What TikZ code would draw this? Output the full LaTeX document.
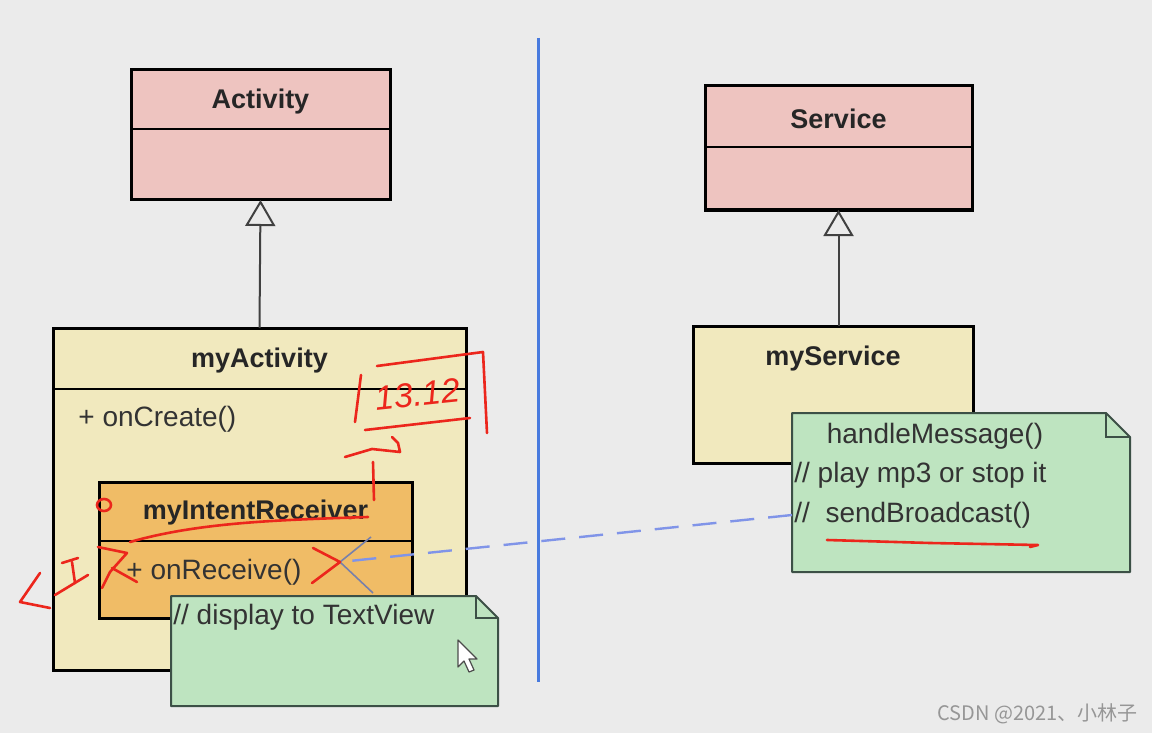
\documentclass[tikz,border=0pt]{standalone}
\usepackage{fontspec}
\setmainfont{Liberation Sans}
\newfontfamily\cjk{Noto Sans CJK SC}
\usetikzlibrary{arrows.meta}

\definecolor{bgGray}{RGB}{235,235,235}
\definecolor{pinkFill}{RGB}{238,196,192}
\definecolor{creamFill}{RGB}{241,233,190}
\definecolor{orangeFill}{RGB}{240,188,102}
\definecolor{noteGreen}{RGB}{190,228,192}
\definecolor{noteLine}{RGB}{60,80,70}
\definecolor{sepBlue}{RGB}{72,122,222}
\definecolor{depBlue}{RGB}{128,148,232}
\definecolor{tipGray}{RGB}{120,128,170}
\definecolor{penRed}{RGB}{236,38,28}
\definecolor{markGray}{RGB}{150,150,150}

\begin{document}
\begin{tikzpicture}[x=0.5pt, y=-0.5pt, >=latex]
  \tikzstyle{classBox} = [draw, line width=1.5pt, inner sep=0pt, outer sep=0pt];
  \tikzstyle{noteBox} = [inner sep=0pt, outer sep=0pt];
  \tikzstyle{noteEdge} = [draw=noteLine, fill=noteGreen, line width=1pt, line join=round];
  \tikzstyle{classTitle} = [font={\fontsize{13.5}{16}\selectfont\bfseries}, text=black!85];
  \tikzstyle{memberText} = [anchor=west, inner sep=0pt, font={\fontsize{14}{17}\selectfont}, text=black!80];
  \tikzstyle{inherit} = [black!75, line width=1pt, -{Triangle[open, length=13pt, width=15pt]}];
  \tikzstyle{dependEdge} = [depBlue, line width=1.2pt, dash pattern=on 12pt off 7pt];
  \tikzstyle{dependTip} = [tipGray, line width=0.8pt];
  \tikzstyle{pen} = [penRed, line width=1.3pt, line cap=round, line join=round];

  \useasboundingbox[fill=bgGray] (0,0) rectangle (1152,733);

  % separator
  \draw[sepBlue, line width=1.5pt] (538,38) -- (538,682);

  % base classes
  \node[classBox, fill=pinkFill, minimum width=129.5pt, minimum height=65pt] (Act) at (260.5,135) {};
  \draw[line width=1pt] (Act.west |- 0,129) -- (Act.east |- 0,129);
  \node[classTitle] (ActT) at (260.5,102) {Activity};

  \node[classBox, fill=pinkFill, minimum width=133.5pt, minimum height=62pt] (Srv) at (838.5,148) {};
  \draw[line width=1pt] (Srv.west |- 0,147) -- (Srv.east |- 0,147);
  \node[classTitle] (SrvT) at (838.5,119) {Service};

  % subclasses
  \node[classBox, fill=creamFill, minimum width=206.5pt, minimum height=171pt] (MyAct) at (259.5,499) {};
  \draw[line width=1pt] (MyAct.west |- 0,389) -- (MyAct.east |- 0,389);
  \node[classTitle] (MyActT) at (259.5,361) {myActivity};
  \node[memberText] (OnCreate) at (78,419) {+ onCreate()};

  \node[classBox, fill=orangeFill, minimum width=156.5pt, minimum height=68pt] (Recv) at (255.5,550) {};
  \draw[line width=1pt] (Recv.west |- 0,541) -- (Recv.east |- 0,541);
  \node[classTitle] (RecvT) at (255.5,513) {myIntentReceiver};
  \node[memberText] (OnRecv) at (126,572) {+ onReceive()};

  \node[classBox, fill=creamFill, minimum width=140pt, minimum height=68.5pt] (MySrv) at (833,394.5) {};
  \node[classTitle] (MySrvT) at (833,359) {myService};

  \draw[inherit] (MyAct.north) -- (Act.south);
  \draw[inherit] (MySrv.north -| Srv.south) -- (Srv.south);

  % notes
  \node[noteBox, minimum width=163.5pt, minimum height=55pt] (NoteA) at (334.5,651) {};
  \path[noteEdge] (NoteA.north west) -- ([xshift=-11pt]NoteA.north east) -- ([yshift=-11pt]NoteA.north east)
    -- (NoteA.south east) -- (NoteA.south west) -- cycle;
  \draw[noteLine, line width=1pt] ([xshift=-11pt]NoteA.north east) -- ([xshift=-11pt,yshift=-11pt]NoteA.north east) -- ([yshift=-11pt]NoteA.north east);
  \node[memberText] (NoteAT) at (173,617) {// display to TextView};

  \node[noteBox, minimum width=169pt, minimum height=79.5pt] (NoteB) at (961,492.5) {};
  \path[noteEdge] (NoteB.north west) -- ([xshift=-12pt]NoteB.north east) -- ([yshift=-12pt]NoteB.north east)
    -- (NoteB.south east) -- (NoteB.south west) -- cycle;
  \draw[noteLine, line width=1pt] ([xshift=-12pt]NoteB.north east) -- ([xshift=-12pt,yshift=-12pt]NoteB.north east) -- ([yshift=-12pt]NoteB.north east);
  \node[memberText, anchor=center] (NoteB1) at (935,436) {handleMessage()};
  \node[memberText] (NoteB2) at (794,475) {// play mp3 or stop it};
  \node[memberText] (NoteB3) at (794,515) {//\ \ sendBroadcast()};

  % dependency from note to receiver
  \coordinate (RecvTip) at (340,562);
  \draw[dependEdge] ([yshift=-11.25pt]NoteB.west) -- (RecvTip);
  \draw[dependTip] (RecvTip) -- ++(31,-25);
  \draw[dependTip] (RecvTip) -- ++(33,31);

  % mouse pointer
  \draw[draw=black!70, fill=white, line width=0.6pt, line join=round] (458,640) -- (458,667) -- (464,661) -- (469,672)
    -- (474,670) -- (469,659) -- (477,659) -- cycle;

  % red pen notes
  \node[text=penRed, font={\fontsize{17}{19}\selectfont\itshape}, rotate=6, inner sep=0pt] (Stamp) at (418,394) {13.12};
  \draw[pen] (361,375) -- (355,422);
  \draw[pen] (377,366) -- (483,352) -- (487,433);
  \draw[pen] (365,430) -- (470,418);
  \draw[pen] (345,457) -- (372,449) -- (400,452) -- (398,443) -- (392,437);
  \draw[pen] (373,462) -- (374,500);
  \draw[pen] (130,542) .. controls (200,522) and (280,520) .. (368,517);
  \draw[pen] (104,505) ellipse (7 and 6);
  \draw[pen] (40,573) -- (20,602) -- (50,608);
  \draw[pen] (62,563) -- (78,558);
  \draw[pen] (72,562) -- (75,583);
  \draw[pen] (55,595) -- (88,575);
  \draw[pen] (98,547) -- (127,553) -- (110,572) -- (102,588);
  \draw[pen] (112,568) -- (137,582);
  \draw[pen] (313,548) -- (340,562) -- (312,583);
  \draw[pen] (827,540) -- (930,543) -- (1038,545) -- (1030,547);

  % watermark
  \node[anchor=east, inner sep=0pt, text=markGray, font={\cjk\fontsize{10}{12}\selectfont}] (Mark) at (1138,714) {CSDN @2021、小林子};
\end{tikzpicture}
\end{document}
